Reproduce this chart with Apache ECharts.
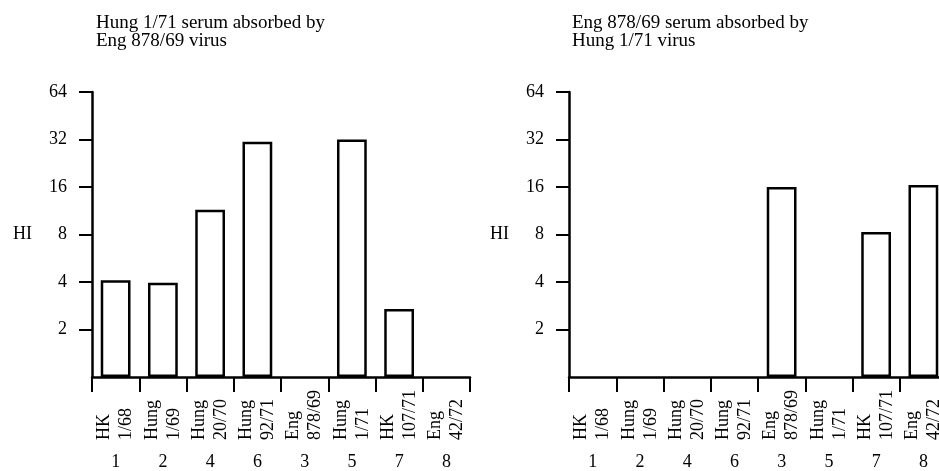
<!DOCTYPE html>
<html>
<head>
<meta charset="utf-8">
<script src="https://cdn.jsdelivr.net/npm/echarts@6/dist/echarts.min.js"></script>
<style>
html,body{margin:0;padding:0;background:#fff;}
#c{width:939px;height:471px;}
</style>
</head>
<body>
<div id="c"></div>
<script>
// Virus strains (x categories), same order in both panels
const strains = ['HK\n1/68', 'Hung\n1/69', 'Hung\n20/70', 'Hung\n92/71', 'Eng\n878/69', 'Hung\n1/71', 'HK\n107/71', 'Eng\n42/72'];
const strainNumbersLeft = ['1', '2', '4', '6', '3', '5', '7', '8'];
const strainNumbersRight = ['1', '2', '4', '6', '3', '5', '7', '8'];
// HI titres (null = no inhibition / zero)
const leftHI = [4.1, 3.95, 11.5, 31, null, 32, 2.7, null];
const rightHI = [null, null, null, null, 16, null, 8.3, 16.5];
const yTicks = [1, 2, 4, 8, 16, 32, 64];
const yLabelTicks = [2, 4, 8, 16, 32, 64];
const leftTitle = 'Hung 1/71 serum absorbed by\nEng 878/69 virus';
const rightTitle = 'Eng 878/69 serum absorbed by\nHung 1/71 virus';
const yName = 'HI';

const FONT = '"Liberation Serif", "Times New Roman", serif';
const INK = '#000';
const FS = 18;

function makeGrid(left, width) {
  return { left: left, top: 92, width: width, height: 285, containLabel: false, outerBoundsMode: 'none' };
}
function catAxis(gi) {
  return {
    type: 'category', gridIndex: gi, data: strains, position: 'bottom',
    axisLine: { show: true, lineStyle: { color: INK, width: 2.5 } },
    axisTick: { show: true, length: 15, alignWithLabel: false, lineStyle: { color: INK, width: 2 } },
    axisLabel: { show: true, rotate: 90, align: 'left', verticalAlign: 'middle', margin: 63,
      fontFamily: FONT, fontSize: FS, color: INK, lineHeight: 22, interval: 0 },
    splitLine: { show: false }
  };
}
function numAxis(gi, nums) {
  return {
    type: 'category', gridIndex: gi, data: nums, position: 'bottom',
    axisLine: { show: false }, axisTick: { show: false },
    axisLabel: { show: true, margin: 76, fontFamily: FONT, fontSize: FS, color: INK, interval: 0 },
    splitLine: { show: false }
  };
}
function valAxis(gi) {
  return {
    type: 'log', logBase: 2, gridIndex: gi, min: yTicks[0], max: yTicks[yTicks.length - 1],
    name: yName, nameLocation: 'middle', nameRotate: 0, nameGap: 60,
    nameTextStyle: { fontFamily: FONT, fontSize: FS, color: INK },
    axisLine: { show: true, lineStyle: { color: INK, width: 2.5 } },
    axisTick: { show: true, length: 13, customValues: yLabelTicks, lineStyle: { color: INK, width: 2 } },
    axisLabel: { margin: 25, fontFamily: FONT, fontSize: FS, color: INK, customValues: yLabelTicks,
      formatter: v => String(Math.round(v)) },
    splitLine: { show: false }
  };
}
function barSeries(xi, yi, data) {
  return {
    type: 'bar', xAxisIndex: xi, yAxisIndex: yi, data: data, barWidth: '63%',
    itemStyle: { color: '#fff', borderColor: INK, borderWidth: 2.5 },
    silent: true, animation: false
  };
}
const titleStyle = { fontFamily: FONT, fontSize: 19, fontWeight: 'normal', color: INK, lineHeight: 18 };

const chart = echarts.init(document.getElementById('c'), null, { renderer: 'canvas' });
chart.setOption({
  backgroundColor: '#fff',
  animation: false,
  title: [
    { text: leftTitle, left: 91, top: 9, textStyle: titleStyle },
    { text: rightTitle, left: 567, top: 9, textStyle: titleStyle }
  ],
  grid: [makeGrid(92, 378), makeGrid(569, 378)],
  xAxis: [catAxis(0), numAxis(0, strainNumbersLeft), catAxis(1), numAxis(1, strainNumbersRight)],
  yAxis: [valAxis(0), valAxis(1)],
  series: [
    barSeries(0, 0, leftHI),
    barSeries(2, 1, rightHI)
  ]
});
</script>
</body>
</html>
